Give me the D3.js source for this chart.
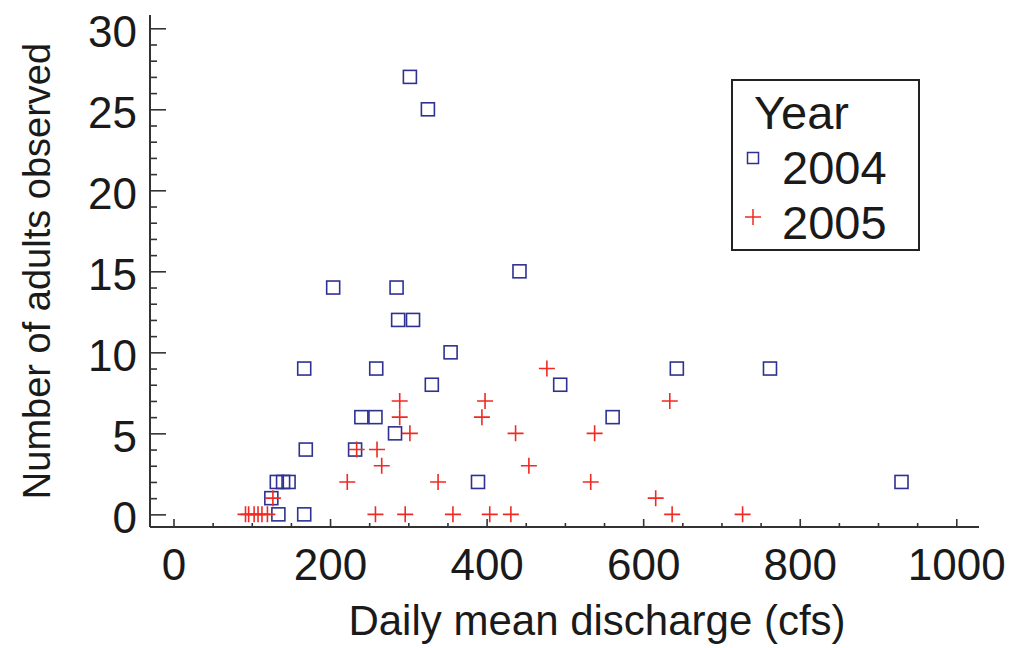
<!DOCTYPE html>
<html>
<head>
<meta charset="utf-8">
<script src="https://cdn.jsdelivr.net/npm/d3@7"></script>
<style>
  html, body { margin: 0; padding: 0; background: #fff; }
  svg { display: block; font-family: "Liberation Sans", Arial, sans-serif; }
</style>
</head>
<body>
<svg id="chart" width="1018" height="648"></svg>
<script>
// ---- data ----
const xTicks = [0, 200, 400, 600, 800, 1000];
const yTicks = [0, 5, 10, 15, 20, 25, 30];
const xTitle = "Daily mean discharge (cfs)";
const yTitle = "Number of adults observed";
const legendTitle = "Year";
const seriesNames = ["2004", "2005"];

const discharge2004 = [302, 325, 442, 204, 285, 287, 306, 354, 167, 259, 643, 762, 330, 494, 240, 258, 561, 283, 169, 232, 132, 140, 147, 389, 930, 125, 134, 167];
const adults2004    = [ 27,  25,  15,  14,  14,  12,  12,  10,   9,   9,   9,   9,   8,   8,   6,   6,   6,   5,   4,   4,   2,   2,   2,   2,   2,   1,   0,   0];

const discharge2005 = [92, 96, 103, 108, 113, 120, 127, 222, 234, 260, 266, 258, 289, 289, 302, 296, 338, 357, 394, 398, 404, 431, 437, 454, 477, 533, 538, 616, 634, 637, 727];
const adults2005    = [ 0,  0,   0,   0,   0,   0,   1,   2,   4,   4,   3,   0,   7,   6,   5,   0,   2,   0,   6,   7,   0,   0,   5,   3,   9,   2,   5,   1,   7,   0,   0];

// ---- layout ----
(function () {
const svg = d3.select("#chart");
const W = 1018, H = 648;
const mLeft = 150, mRight = 979, mTop = 15, mBottom = 527;
const axisColor = "#333";
const textColor = "#1a1a1a";
const blue = "#2e3190";
const red = "#f02a22";

svg.append("rect").attr("width", W).attr("height", H).attr("fill", "#fff");

const x = d3.scaleLinear().domain([-30, 1029]).range([mLeft, mRight]);
const y = d3.scaleLinear().domain([-0.78, 30.82]).range([mBottom, mTop]);

// minor ticks
const xMinor = d3.range(50, 1001, 50).filter(v => v % 200 !== 0);
const yMinor = d3.range(0, 31, 1).filter(v => v % 5 !== 0);

const gxMinor = svg.append("g").attr("transform", `translate(0,${mBottom})`)
  .call(d3.axisBottom(x).tickValues(xMinor).tickSize(-4).tickFormat(""));
const gx = svg.append("g").attr("transform", `translate(0,${mBottom})`)
  .call(d3.axisBottom(x).tickValues(xTicks).tickSize(-8).tickPadding(22).tickFormat(d3.format("d")));
const gyMinor = svg.append("g").attr("transform", `translate(${mLeft},0)`)
  .call(d3.axisLeft(y).tickValues(yMinor).tickSize(-7).tickFormat(""));
const gy = svg.append("g").attr("transform", `translate(${mLeft},0)`)
  .call(d3.axisLeft(y).tickValues(yTicks).tickSize(-16).tickPadding(13).tickFormat(d3.format("d")));

[gxMinor, gx, gyMinor, gy].forEach(g => {
  g.select(".domain").remove();
  g.selectAll(".tick line").attr("stroke", axisColor).attr("stroke-width", 1.6);
  g.selectAll("text").attr("fill", textColor).attr("font-size", 44)
    .attr("font-family", "'Liberation Sans', Arial, sans-serif");
});
gy.selectAll("text").attr("dy", "0.42em");

// axis lines
svg.append("line").attr("x1", mLeft).attr("x2", mLeft).attr("y1", mTop).attr("y2", mBottom)
  .attr("stroke", axisColor).attr("stroke-width", 2);
svg.append("line").attr("x1", mLeft).attr("x2", mRight).attr("y1", mBottom).attr("y2", mBottom)
  .attr("stroke", axisColor).attr("stroke-width", 2);

// titles
svg.append("text").attr("x", 597).attr("y", 635).attr("text-anchor", "middle")
  .attr("font-size", 42).attr("fill", textColor).text(xTitle);
svg.append("text").attr("transform", "translate(50,271) rotate(-90)").attr("text-anchor", "middle")
  .attr("font-size", 38).attr("fill", textColor).text(yTitle);

// points 2004: squares
const sq = 13;
svg.append("g").selectAll("rect").data(discharge2004.map((d, i) => [d, adults2004[i]]))
  .join("rect")
  .attr("x", d => x(d[0]) - sq / 2).attr("y", d => y(d[1]) - sq / 2)
  .attr("width", sq).attr("height", sq)
  .attr("fill", "none").attr("stroke", blue).attr("stroke-width", 1.6);

// points 2005: crosses
const cr = 8;
svg.append("g").selectAll("path").data(discharge2005.map((d, i) => [d, adults2005[i]]))
  .join("path")
  .attr("d", d => `M${x(d[0]) - cr},${y(d[1])}H${x(d[0]) + cr}M${x(d[0])},${y(d[1]) - cr}V${y(d[1]) + cr}`)
  .attr("fill", "none").attr("stroke", red).attr("stroke-width", 1.6);

// legend
const lg = svg.append("g");
lg.append("rect").attr("x", 732).attr("y", 80).attr("width", 187).attr("height", 170)
  .attr("fill", "#fff").attr("stroke", "#222").attr("stroke-width", 2);
lg.append("text").attr("x", 754).attr("y", 129).attr("font-size", 47).attr("fill", textColor).text(legendTitle);
lg.append("text").attr("x", 782).attr("y", 184).attr("font-size", 47).attr("fill", textColor).text(seriesNames[0]);
lg.append("text").attr("x", 782).attr("y", 239).attr("font-size", 47).attr("fill", textColor).text(seriesNames[1]);
lg.append("rect").attr("x", 753 - 5.5).attr("y", 158 - 5.5).attr("width", 11).attr("height", 11)
  .attr("fill", "none").attr("stroke", blue).attr("stroke-width", 1.5);
lg.append("path").attr("d", `M745,217H761M753,209V225`).attr("fill", "none").attr("stroke", red).attr("stroke-width", 1.5);
})();
</script>
</body>
</html>
